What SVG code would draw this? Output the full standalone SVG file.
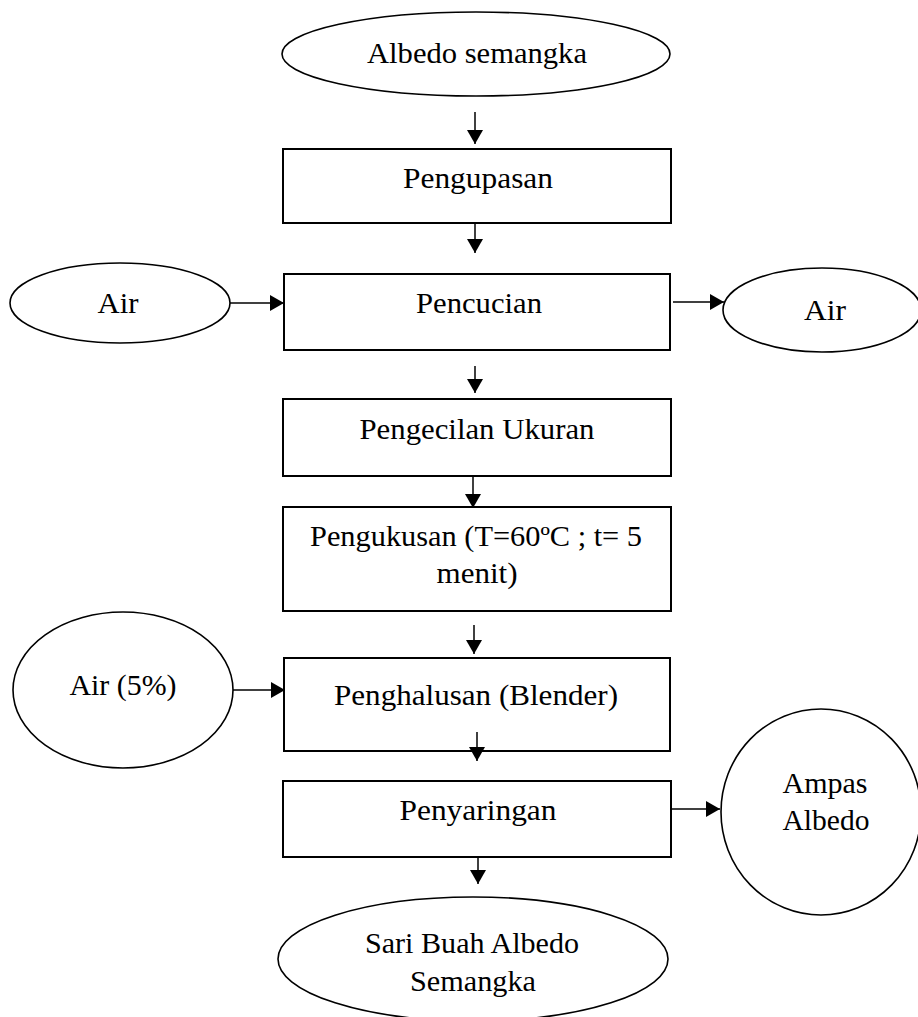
<svg xmlns="http://www.w3.org/2000/svg" width="918" height="1017" viewBox="0 0 918 1017">
<style>
.n{fill:#fff;stroke:#000;stroke-width:2}
.o{fill:#fff;stroke:#000;stroke-width:1.6}
.t{font-family:"Liberation Serif","Times New Roman",serif;font-size:29px;fill:#000;text-anchor:middle}
.c{stroke:#000;stroke-width:1.5;fill:none;marker-end:url(#ah)}
</style>
<defs>
<marker id="ah" markerUnits="userSpaceOnUse" markerWidth="16" markerHeight="16" refX="14" refY="8" orient="auto">
<path d="M0,0 L14,8 L0,16 Z" fill="#000"/>
</marker>
</defs>
<rect width="918" height="1017" fill="#fff"/>
<g id="connectors">
<line class="c" x1="475" y1="112" x2="475" y2="144"/>
<line class="c" x1="475" y1="223" x2="475" y2="253"/>
<line class="c" x1="229" y1="303" x2="284" y2="303"/>
<line class="c" x1="673" y1="302" x2="724" y2="302"/>
<line class="c" x1="475" y1="366" x2="475" y2="393"/>
<line class="c" x1="473" y1="476" x2="473" y2="508"/>
<line class="c" x1="474" y1="625" x2="474" y2="654"/>
<line class="c" x1="233" y1="690" x2="285" y2="690"/>
<line class="c" x1="668" y1="809" x2="720" y2="809"/>
<line class="c" x1="478" y1="857" x2="478" y2="884"/>
</g>
<g id="n-albedo">
<ellipse class="o" cx="476" cy="54" rx="194" ry="42"/>
<text class="t" x="477" y="63" textLength="220" lengthAdjust="spacingAndGlyphs">Albedo semangka</text>
</g>
<g id="n-pengupasan">
<rect class="n" x="283" y="149" width="388" height="74"/>
<text class="t" x="478" y="188" textLength="150" lengthAdjust="spacingAndGlyphs">Pengupasan</text>
</g>
<g id="n-air-in">
<ellipse class="o" cx="120" cy="303" rx="110" ry="40"/>
<text class="t" x="118" y="313" textLength="41" lengthAdjust="spacingAndGlyphs">Air</text>
</g>
<g id="n-pencucian">
<rect class="n" x="284" y="274" width="386" height="76"/>
<text class="t" x="479" y="313" textLength="126" lengthAdjust="spacingAndGlyphs">Pencucian</text>
</g>
<g id="n-air-out">
<ellipse class="o" cx="822" cy="310" rx="99" ry="42"/>
<text class="t" x="825" y="320" textLength="42" lengthAdjust="spacingAndGlyphs">Air</text>
</g>
<g id="n-pengecilan">
<rect class="n" x="283" y="399" width="388" height="77"/>
<text class="t" x="477" y="439" textLength="235" lengthAdjust="spacingAndGlyphs">Pengecilan Ukuran</text>
</g>
<g id="n-pengukusan">
<rect class="n" x="283" y="507" width="388" height="104"/>
<text class="t" x="476" y="546" textLength="332" lengthAdjust="spacingAndGlyphs">Pengukusan (T=60ºC ; t= 5</text>
<text class="t" x="477" y="583" textLength="81" lengthAdjust="spacingAndGlyphs">menit)</text>
</g>
<g id="n-air5">
<ellipse class="o" cx="123" cy="690" rx="110" ry="78"/>
<text class="t" x="123" y="695" textLength="107" lengthAdjust="spacingAndGlyphs">Air (5%)</text>
</g>
<g id="n-penghalusan">
<rect class="n" x="284" y="658" width="386" height="93"/>
<text class="t" x="476" y="705" textLength="284" lengthAdjust="spacingAndGlyphs">Penghalusan (Blender)</text>
<line class="c" x1="477" y1="732" x2="477" y2="761"/>
</g>
<g id="n-penyaringan">
<rect class="n" x="283" y="781" width="388" height="76"/>
<text class="t" x="478" y="820" textLength="157" lengthAdjust="spacingAndGlyphs">Penyaringan</text>
</g>
<g id="n-ampas">
<ellipse class="o" cx="821" cy="812" rx="100" ry="103"/>
<text class="t" x="825" y="793" textLength="85" lengthAdjust="spacingAndGlyphs">Ampas</text>
<text class="t" x="826" y="830" textLength="87" lengthAdjust="spacingAndGlyphs">Albedo</text>
</g>
<g id="n-sari">
<ellipse class="o" cx="473" cy="959" rx="195" ry="62"/>
<text class="t" x="472" y="953" textLength="214" lengthAdjust="spacingAndGlyphs">Sari Buah Albedo</text>
<text class="t" x="473" y="991" textLength="126" lengthAdjust="spacingAndGlyphs">Semangka</text>
</g>
</svg>
